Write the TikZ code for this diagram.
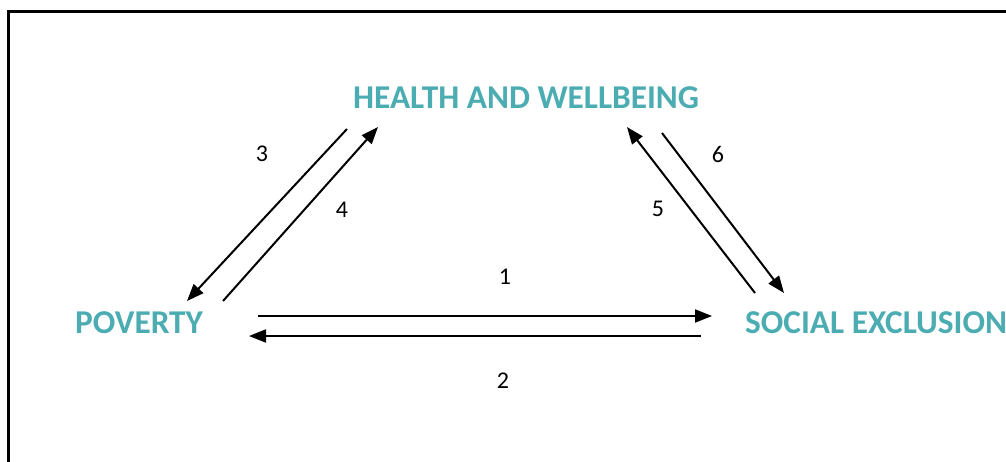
\documentclass[tikz,border=0pt]{standalone}
\usepackage{fontspec}
\setmainfont{Carlito}
\usetikzlibrary{arrows.meta}
\definecolor{teal1}{RGB}{75,172,178}
\tikzset{
  lbl/.style={inner sep=0pt, anchor=base west, text=teal1, font=\fontsize{33.3}{36}\selectfont\bfseries},
  num/.style={inner sep=0pt, anchor=center, font=\fontsize{24}{28}\selectfont},
  arr/.style={line width=2pt, -{Triangle[length=17pt,width=13pt]}},
  frame/.style={line width=3pt}
}
\begin{document}
\begin{tikzpicture}[x=1pt,y=-1pt]
\useasboundingbox (0,0) rectangle (1006,461);
\draw[frame] (8.5,475) -- (8.5,11.5) -- (1020,11.5);
\node[lbl] (health) at (353,108) {HEALTH AND WELLBEING};
\node[lbl] (poverty) at (75,333) {POVERTY};
\node[lbl] (social) at (745,333) {SOCIAL EXCLUSION};
% arrow ends
\coordinate (a1s) at (258,316); \coordinate (a1e) at (712,316);
\coordinate (a2s) at (701,336); \coordinate (a2e) at (249,336);
\coordinate (a3s) at (347,129); \coordinate (a3e) at (187,301);
\coordinate (a4s) at (223,301); \coordinate (a4e) at (378,127);
\coordinate (a5s) at (755,293); \coordinate (a5e) at (627,127);
\coordinate (a6s) at (662,133); \coordinate (a6e) at (784,293);
\draw[arr] (a1s) -- (a1e);
\draw[arr] (a2s) -- (a2e);
\draw[arr] (a3s) -- (a3e);
\draw[arr] (a4s) -- (a4e);
\draw[arr] (a5s) -- (a5e);
\draw[arr] (a6s) -- (a6e);
\node[num] (n1) at (505,277) {1};
\node[num] (n2) at (503,381) {2};
\node[num] (n3) at (262,154) {3};
\node[num] (n4) at (342,210) {4};
\node[num] (n5) at (658,209) {5};
\node[num] (n6) at (718,154) {6};
\end{tikzpicture}
\end{document}
